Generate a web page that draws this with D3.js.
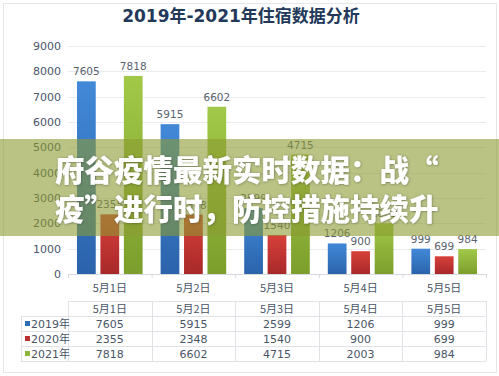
<!DOCTYPE html>
<html>
<head>
<meta charset="utf-8">
<script src="https://cdn.jsdelivr.net/npm/d3@7"></script>
<style>
  body { margin: 0; background: #fff; }
  svg { display: block; font-family: "DejaVu Sans", "Noto Sans CJK SC", sans-serif; }
</style>
</head>
<body>
<div id="chart"></div>
<script>
const categories = ["5月1日", "5月2日", "5月3日", "5月4日", "5月5日"];
const seriesNames = ["2019年", "2020年", "2021年"];
const values2019 = [7605, 5915, 2599, 1206, 999];
const values2020 = [2355, 2348, 1540, 900, 699];
const values2021 = [7818, 6602, 4715, 2003, 984];
const yTicks = [0, 1000, 2000, 3000, 4000, 5000, 6000, 7000, 8000, 9000];
const titleText = "2019年-2021年住宿数据分析";
const overlayLines = ["府谷疫情最新实时数据：战“", "疫”进行时，防控措施持续升"];

const series = [values2019, values2020, values2021];
const colors = [
    {top: "#4289d8", bottom: "#2b63ab", key: "#2e6db4"},
    {top: "#d8403a", bottom: "#a8292a", key: "#b83232"},
    {top: "#a2c948", bottom: "#7c9e2c", key: "#8cb53c"}
];

const width = 499, height = 376;
const svg = d3.select("#chart").append("svg")
    .attr("width", width)
    .attr("height", height);

const defs = svg.append("defs");
colors.forEach((c, i) => {
    const g = defs.append("linearGradient")
        .attr("id", "grad" + i)
        .attr("x1", 0).attr("y1", 0).attr("x2", 0).attr("y2", 1);
    g.append("stop").attr("offset", "0%").attr("stop-color", c.top);
    g.append("stop").attr("offset", "100%").attr("stop-color", c.bottom);
});
const shadow = defs.append("filter").attr("id", "txtShadow")
    .attr("x", "-10%").attr("y", "-20%").attr("width", "120%").attr("height", "140%");
shadow.append("feDropShadow")
    .attr("dx", 0.5).attr("dy", 0.5)
    .attr("stdDeviation", 0.8)
    .attr("flood-color", "#333")
    .attr("flood-opacity", 0.5);

// outer frame
svg.append("rect")
    .attr("x", 3.5).attr("y", 3.5)
    .attr("width", 493).attr("height", 369)
    .attr("fill", "#fff")
    .attr("stroke", "#e3e6ea");

// title
svg.append("text")
    .attr("x", 241).attr("y", 22)
    .attr("text-anchor", "middle")
    .attr("font-family", "'DejaVu Sans', 'Noto Sans CJK SC', sans-serif")
    .attr("font-size", 17)
    .attr("font-weight", "bold")
    .attr("fill", "#23395a")
    .text(titleText);

const plotLeft = 68, plotRight = 486, plotTop = 46, plotBottom = 274;

const x = d3.scaleBand().domain(categories).range([plotLeft, plotRight]);
const xInner = d3.scaleBand().domain(d3.range(series.length))
    .range([9, x.bandwidth() - 9])
    .paddingInner(0.2);
const y = d3.scaleLinear().domain([0, 9000]).range([plotBottom, plotTop]);

// grid
svg.append("g")
    .selectAll("line")
    .data(yTicks.filter(d => d > 0))
    .join("line")
    .attr("x1", plotLeft).attr("x2", plotRight)
    .attr("y1", d => Math.round(y(d)) + 0.5)
    .attr("y2", d => Math.round(y(d)) + 0.5)
    .attr("stroke", "#e8ebef");

// y axis labels
const yAxis = svg.append("g")
    .attr("transform", "translate(" + plotLeft + ",0)")
    .call(d3.axisLeft(y).tickValues(yTicks).tickFormat(d3.format("d")).tickSize(0).tickPadding(7));
yAxis.select(".domain").remove();
yAxis.selectAll("text")
    .attr("font-family", "'DejaVu Sans', sans-serif")
    .attr("font-size", 11)
    .attr("fill", "#4a5568");

// x axis
const xAxis = svg.append("g")
    .attr("transform", "translate(0," + plotBottom + ")")
    .call(d3.axisBottom(x).tickSize(0).tickPadding(10));
xAxis.select(".domain").attr("stroke", "#d6dade");
xAxis.selectAll("text")
    .attr("font-family", "'Noto Sans CJK SC', sans-serif")
    .attr("font-size", 11)
    .attr("fill", "#4a5568");
xAxis.append("g")
    .selectAll("line")
    .data(categories.map(c => x(c)).concat([plotRight]))
    .join("line")
    .attr("x1", d => d + 0.5).attr("x2", d => d + 0.5)
    .attr("y1", 0).attr("y2", 4)
    .attr("stroke", "#d6dade");

// bars
const groups = svg.append("g")
    .selectAll("g")
    .data(categories)
    .join("g")
    .attr("transform", d => "translate(" + x(d) + ",0)");

groups.selectAll("rect")
    .data((d, ci) => series.map((s, si) => ({si: si, v: s[ci]})))
    .join("rect")
    .attr("x", d => xInner(d.si))
    .attr("width", xInner.bandwidth())
    .attr("y", d => y(d.v))
    .attr("height", d => y(0) - y(d.v))
    .attr("fill", d => "url(#grad" + d.si + ")");

groups.selectAll("text")
    .data((d, ci) => series.map((s, si) => ({si: si, v: s[ci]})))
    .join("text")
    .attr("x", d => xInner(d.si) + xInner.bandwidth() / 2)
    .attr("y", d => y(d.v) - 6)
    .attr("text-anchor", "middle")
    .attr("font-size", 10.5)
    .attr("fill", "#5a6270")
    .text(d => d.v);

// data table
const tableTop = 301, rowH = 15, tableLeft = 21;
const tableColor = "#dfe3e8";
const tbl = svg.append("g");
const rowLines = d3.range(series.length + 2).map(i => tableTop + i * rowH);
tbl.selectAll("line.h")
    .data(rowLines)
    .join("line")
    .attr("class", "h")
    .attr("x1", (d, i) => i === 0 ? plotLeft : tableLeft)
    .attr("x2", plotRight)
    .attr("y1", d => d + 0.5).attr("y2", d => d + 0.5)
    .attr("stroke", tableColor);
const colLines = categories.map(c => x(c)).concat([plotRight]);
tbl.selectAll("line.v")
    .data(colLines)
    .join("line")
    .attr("class", "v")
    .attr("x1", d => Math.round(d) + 0.5).attr("x2", d => Math.round(d) + 0.5)
    .attr("y1", tableTop).attr("y2", tableTop + rowH * (series.length + 1))
    .attr("stroke", tableColor);
tbl.append("line")
    .attr("x1", tableLeft + 0.5).attr("x2", tableLeft + 0.5)
    .attr("y1", tableTop + rowH).attr("y2", tableTop + rowH * (series.length + 1))
    .attr("stroke", tableColor);

tbl.selectAll("text.hd")
    .data(categories)
    .join("text")
    .attr("class", "hd")
    .attr("x", d => x(d) + x.bandwidth() / 2)
    .attr("y", tableTop + 11.5)
    .attr("text-anchor", "middle")
    .attr("font-family", "'Noto Sans CJK SC', sans-serif")
    .attr("font-size", 11)
    .attr("fill", "#4a5568")
    .text(d => d);

series.forEach((s, si) => {
    const rowY = tableTop + rowH * (si + 1);
    tbl.append("rect")
        .attr("x", 25).attr("y", rowY + 5)
        .attr("width", 5).attr("height", 5)
        .attr("fill", colors[si].key);
    tbl.append("text")
        .attr("x", 31).attr("y", rowY + 11.5)
        .attr("font-size", 11)
        .attr("fill", "#4a5568")
        .text(seriesNames[si]);
    tbl.selectAll("text.r" + si)
        .data(s)
        .join("text")
        .attr("class", "r" + si)
        .attr("x", (d, i) => x(categories[i]) + x.bandwidth() / 2)
        .attr("y", rowY + 11.5)
        .attr("text-anchor", "middle")
        .attr("font-size", 11)
        .attr("fill", "#4a5568")
        .text(d => d);
});

// overlay band with headline
svg.append("rect")
    .attr("x", 0).attr("y", 139)
    .attr("width", width).attr("height", 97)
    .attr("fill", "rgb(140,155,50)")
    .attr("fill-opacity", 0.6);

svg.append("g")
    .attr("filter", "url(#txtShadow)")
    .selectAll("text")
    .data(overlayLines)
    .join("text")
    .attr("x", 55)
    .attr("y", (d, i) => 181 + i * 39)
    .attr("font-family", "'Noto Sans CJK SC', sans-serif")
    .attr("font-size", 29.5)
    .attr("font-weight", 900)
    .attr("fill", "#fff")
    .text(d => d);
</script>
</body>
</html>
